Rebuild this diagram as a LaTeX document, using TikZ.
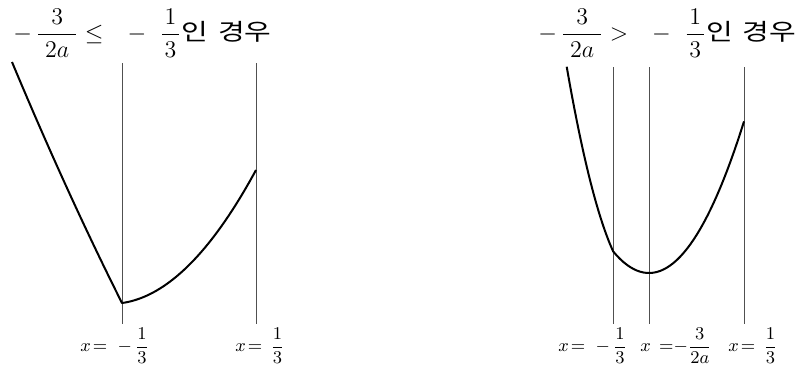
\documentclass[tikz,border=0pt]{standalone}
\usepackage{amsmath}
\usepackage{fontspec}
\newfontfamily\kor{Noto Sans CJK KR}
\usetikzlibrary{calc}
\definecolor{CurveInk}{HTML}{000000}
\definecolor{GuideInk}{HTML}{505050}
\tikzset{
  casetitle/.style={font=\fontsize{11.6}{14}\selectfont, anchor=west, inner sep=0pt},
  xlab/.style={font=\fontsize{9.5}{12}\selectfont, anchor=west, inner sep=0pt},
  guide/.style={line width=0.45pt, GuideInk},
  fcurve/.style={line width=1pt, CurveInk, line join=round},
}
\newcommand{\kwon}{\scalebox{1.25}[1]{\kor 인\hspace{0.35em}경우}}

\begin{document}
\begin{tikzpicture}[x=0.5pt, y=-0.5pt]
  % 1 unit = 1 px of the 797x372 sketch, y grows downwards
  \useasboundingbox (0,0) rectangle (797,372);

  % case -3/(2a) <= -1/3
  \begin{scope}
    \node[casetitle] (titleL) at (13,33)
      {$-\,\dfrac{3}{\;2a\;}\le\;\;\,-\;\;\dfrac{\mkern2mu1\mkern2mu}{3}$\kwon};
    \coordinate (topLa) at (122,63);
    \coordinate (topLb) at (256,63);
    \node[xlab] (labLa) at (80,346) {$x\!=\;-\,\dfrac{1}{3}$};
    \node[xlab] (labLb) at (235,346) {$x\!=\,\dfrac{1}{3}$};
    \draw[guide] (topLa) -- ($(topLa |- labLa.north)+(0,-4)$);
    \draw[guide] (topLb) -- ($(topLb |- labLb.north)+(0,-4)$);
    \draw[fcurve] plot[domain=12:122, samples=30]
        (\x, {188+2.191*(\x-67)-18.18*((\x-67)/100)^2})
      -- plot[domain=122:256, samples=40]
        (\x, {303-0.14*(\x-122)-63.62*((\x-122)/100)^2});
  \end{scope}

  % case -3/(2a) > -1/3
  \begin{scope}
    \node[casetitle] (titleR) at (538,33)
      {$-\,\dfrac{3}{\;2a\;}>\;\;\,-\;\;\dfrac{\mkern2mu1\mkern2mu}{3}$\kwon};
    \coordinate (topRa) at (613.3,67);
    \coordinate (topRb) at (649,67);
    \coordinate (topRc) at (744,67);
    \node[xlab] (labRa) at (558,346) {$x\!=\;-\,\dfrac{1}{3}$};
    \node[xlab] (labRb) at (640,346) {$x\,=\mkern-5mu-\dfrac{3}{2a}$};
    \node[xlab] (labRc) at (728,346) {$x\!=\,\dfrac{1}{3}$};
    \draw[guide] (topRa) -- ($(topRa |- labRa.north)+(0,-4)$);
    \draw[guide] (topRb) -- ($(topRb |- labRb.north)+(0,-4)$);
    \draw[guide] (topRc) -- ($(topRc |- labRc.north)+(0,-4)$);
    \draw[fcurve] plot[domain=566.7:613.3, samples=30]
        (\x, {180+3.97*(\x-590)-383*((\x-590)/100)^2})
      -- plot[domain=613.3:744, samples=40]
        (\x, {273-168*((\x-649)/100)^2});
  \end{scope}
\end{tikzpicture}
\end{document}
